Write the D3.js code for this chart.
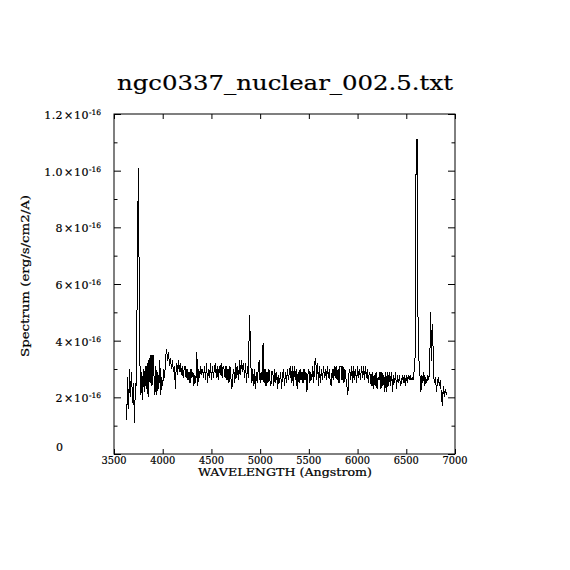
<!DOCTYPE html>
<html>
<head>
<meta charset="utf-8">
<script src="https://cdn.jsdelivr.net/npm/d3@7.9.0/dist/d3.min.js"></script>
<style>
  body { margin: 0; background: #fff; }
  text { font-family: "DejaVu Serif", "Liberation Serif", serif; fill: #000; stroke: #000; stroke-width: 0.2; }
</style>
</head>
<body>
<svg id="plot" width="570" height="570"></svg>
<script>
// spectrum sampled every 10 A starting at 3630 A, flux in units of 1e-16 erg/s/cm2/A
const lambdaStart = 3630;
const lambdaStep = 10;
const fluxUnit = 1e-16;
const flux = [
  0.12, 0.27, 0.16, 0.30, 0.20, 0.29, 0.18, 0.25, 0.11, 0.25,
  0.24, 0.67, 1.01, 0.54, 0.21, 0.29, 0.19, 0.30, 0.22, 0.31,
  0.23, 0.32, 0.20, 0.34, 0.25, 0.35, 0.24, 0.35, 0.28, 0.21,
  0.31, 0.21, 0.29, 0.23, 0.33, 0.21, 0.27, 0.24, 0.30, 0.27,
  0.34, 0.37, 0.33, 0.36, 0.31, 0.34, 0.30, 0.33, 0.29, 0.31,
  0.23, 0.32, 0.28, 0.33, 0.29, 0.32, 0.28, 0.31, 0.27, 0.30,
  0.31, 0.27, 0.30, 0.26, 0.29, 0.25, 0.30, 0.27, 0.29, 0.24,
  0.28, 0.25, 0.36, 0.24, 0.30, 0.27, 0.31, 0.28, 0.30, 0.27,
  0.31, 0.26, 0.32, 0.25, 0.30, 0.27, 0.32, 0.26, 0.31, 0.27,
  0.30, 0.32, 0.27, 0.31, 0.26, 0.31, 0.28, 0.32, 0.27, 0.31,
  0.30, 0.27, 0.31, 0.26, 0.30, 0.25, 0.31, 0.27, 0.23, 0.28,
  0.30, 0.25, 0.32, 0.27, 0.31, 0.26, 0.33, 0.28, 0.33, 0.29,
  0.32, 0.27, 0.32, 0.25, 0.31, 0.27, 0.49, 0.40, 0.25, 0.30,
  0.24, 0.30, 0.23, 0.29, 0.25, 0.30, 0.33, 0.25, 0.29, 0.26,
  0.39, 0.25, 0.30, 0.24, 0.29, 0.25, 0.30, 0.26, 0.24, 0.29,
  0.29, 0.24, 0.30, 0.25, 0.29, 0.23, 0.28, 0.25, 0.29, 0.23,
  0.28, 0.30, 0.24, 0.29, 0.25, 0.30, 0.26, 0.29, 0.31, 0.25,
  0.31, 0.24, 0.31, 0.26, 0.30, 0.23, 0.29, 0.25, 0.30, 0.26,
  0.29, 0.25, 0.30, 0.26, 0.29, 0.22, 0.28, 0.30, 0.25, 0.29,
  0.26, 0.31, 0.25, 0.32, 0.34, 0.26, 0.32, 0.24, 0.31, 0.25,
  0.30, 0.26, 0.31, 0.27, 0.30, 0.26, 0.31, 0.27, 0.30, 0.25,
  0.24, 0.30, 0.26, 0.31, 0.27, 0.31, 0.26, 0.30, 0.25, 0.31,
  0.31, 0.26, 0.31, 0.25, 0.30, 0.27, 0.24, 0.21, 0.28, 0.30,
  0.26, 0.31, 0.25, 0.31, 0.26, 0.30, 0.25, 0.31, 0.27, 0.30,
  0.26, 0.31, 0.27, 0.31, 0.26, 0.31, 0.27, 0.30, 0.25, 0.29,
  0.28, 0.24, 0.29, 0.23, 0.28, 0.24, 0.29, 0.23, 0.27, 0.26,
  0.29, 0.23, 0.29, 0.24, 0.28, 0.22, 0.29, 0.22, 0.29, 0.24,
  0.29, 0.24, 0.29, 0.22, 0.28, 0.25, 0.29, 0.23, 0.28, 0.25,
  0.28, 0.24, 0.25, 0.28, 0.25, 0.28, 0.24, 0.28, 0.25, 0.28,
  0.26, 0.28, 0.26, 0.27, 0.26, 0.29, 0.34, 0.99, 1.11, 0.49,
  0.33, 0.28, 0.22, 0.28, 0.25, 0.29, 0.24, 0.27, 0.25, 0.28,
  0.26, 0.30, 0.50, 0.33, 0.46, 0.28, 0.25, 0.27, 0.22, 0.26,
  0.27, 0.24, 0.26, 0.21, 0.17, 0.24, 0.20, 0.23, 0.21, 0.22
];

const xTicks = [3500, 4000, 4500, 5000, 5500, 6000, 6500, 7000];
const yMajor = [0, 0.2, 0.4, 0.6, 0.8, 1.0, 1.2];
const yMinor = [0.1, 0.3, 0.5, 0.7, 0.9, 1.1];
const yMantissa = ["0", "2", "4", "6", "8", "1.0", "1.2"];
const yExponent = "-16";

const titleText = "ngc0337_nuclear_002.5.txt";
const xTitle = "WAVELENGTH (Angstrom)";
const yTitle = "Spectrum (erg/s/cm2/A)";

// plot box
const boxLeft = 114, boxRight = 455, boxTop = 114, boxBottom = 454;

const svg = d3.select('#plot');
svg.append('rect').attr('width', 570).attr('height', 570).attr('fill', '#fff');

const x = d3.scaleLinear().domain([3500, 7000]).range([boxLeft, boxRight]);
const y = d3.scaleLinear().domain([0, 1.2 * fluxUnit]).range([boxBottom, boxTop]);

const points = flux.map((f, i) => ({ lam: lambdaStart + i * lambdaStep, f: f * fluxUnit }));

// the spectrum, aliased like the original bitmap plot
const line = d3.line().x(d => x(d.lam)).y(d => y(d.f));
svg.append('path')
  .datum(points)
  .attr('d', line)
  .attr('fill', 'none')
  .attr('stroke', '#000')
  .attr('stroke-width', 1)
  .attr('shape-rendering', 'crispEdges');

// ticks (inward, all four sides)
function tidy(g) {
  g.select('.domain').remove();
  g.selectAll('line').attr('stroke', '#000').attr('stroke-width', 1);
  g.selectAll('text').remove();
}
svg.append('g').attr('transform', `translate(0,${boxBottom})`)
  .call(d3.axisBottom(x).tickValues(xTicks).tickSize(-5).tickFormat('')).call(tidy);
svg.append('g').attr('transform', `translate(0,${boxTop})`)
  .call(d3.axisTop(x).tickValues(xTicks).tickSize(-5).tickFormat('')).call(tidy);
svg.append('g').attr('transform', `translate(${boxLeft},0)`)
  .call(d3.axisLeft(y).tickValues(yMajor.map(v => v * fluxUnit)).tickSize(-7).tickFormat('')).call(tidy);
svg.append('g').attr('transform', `translate(${boxLeft},0)`)
  .call(d3.axisLeft(y).tickValues(yMinor.map(v => v * fluxUnit)).tickSize(-3.5).tickFormat('')).call(tidy);
svg.append('g').attr('transform', `translate(${boxRight},0)`)
  .call(d3.axisRight(y).tickValues(yMajor.map(v => v * fluxUnit)).tickSize(-7).tickFormat('')).call(tidy);
svg.append('g').attr('transform', `translate(${boxRight},0)`)
  .call(d3.axisRight(y).tickValues(yMinor.map(v => v * fluxUnit)).tickSize(-3.5).tickFormat('')).call(tidy);

// frame
svg.append('rect')
  .attr('x', boxLeft).attr('y', boxTop)
  .attr('width', boxRight - boxLeft).attr('height', boxBottom - boxTop)
  .attr('fill', 'none').attr('stroke', '#000').attr('stroke-width', 1);

// x tick labels
svg.append('g').selectAll('text')
  .data(xTicks)
  .join('text')
  .attr('x', d => x(d))
  .attr('y', boxBottom + 9.5)
  .attr('text-anchor', 'middle')
  .attr('font-size', 11)
  .attr('textLength', 25).attr('lengthAdjust', 'spacingAndGlyphs')
  .text(d => d);

// y tick labels with power of ten
yMajor.forEach((v, i) => {
  const ty = y(v * fluxUnit);
  if (v === 0) {
    svg.append('text')
      .attr('x', 63).attr('y', ty - 3.5)
      .attr('text-anchor', 'end')
      .attr('font-size', 11)
      .text(yMantissa[i]);
    return;
  }
  const t = svg.append('text')
    .attr('x', 101).attr('y', ty + 5)
    .attr('text-anchor', 'end')
    .attr('font-size', 11)
    .attr('letter-spacing', 0.4);
  t.append('tspan').text(yMantissa[i]);
  t.append('tspan').attr('dx', 1).text('\u00d7');
  t.append('tspan').attr('dx', 0.5).text('10');
  t.append('tspan').attr('dy', -4).attr('font-size', 7.5).attr('letter-spacing', 0).text(yExponent);
});

// titles
svg.append('text')
  .attr('x', 285).attr('y', 90)
  .attr('text-anchor', 'middle')
  .attr('font-size', 20)
  .attr('textLength', 336).attr('lengthAdjust', 'spacingAndGlyphs')
  .text(titleText);

svg.append('text')
  .attr('x', 285).attr('y', 476)
  .attr('text-anchor', 'middle')
  .attr('font-size', 11)
  .attr('textLength', 174).attr('lengthAdjust', 'spacingAndGlyphs')
  .text(xTitle);

svg.append('text')
  .attr('transform', 'translate(29,276) rotate(-90)')
  .attr('text-anchor', 'middle')
  .attr('font-size', 11)
  .attr('textLength', 162).attr('lengthAdjust', 'spacingAndGlyphs')
  .text(yTitle);
</script>
</body>
</html>
